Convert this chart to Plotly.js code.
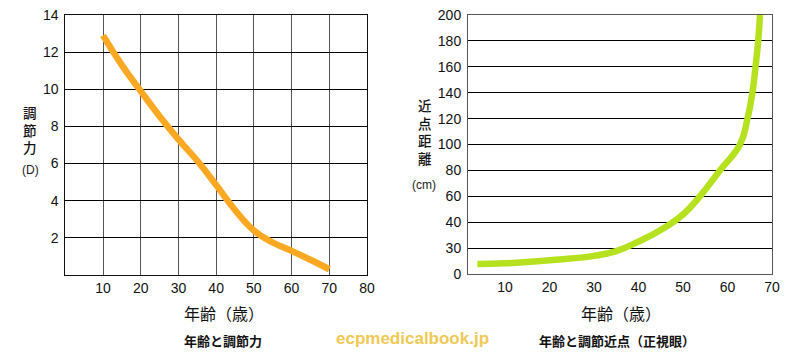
<!DOCTYPE html>
<html>
<head>
<meta charset="utf-8">
<script src="https://cdn.plot.ly/plotly-3.0.1.min.js"></script>
<style>html,body{margin:0;padding:0;background:#fff;}#chart{width:800px;height:360px;}</style>
</head>
<body>
<div id="chart"></div>
<script>
// Left chart: age vs accommodation (D)
const agesAcc = [10, 15, 20, 25, 30, 35, 40, 45, 50, 55, 60, 65, 70];
const accommodation = [12.9, 11.3, 9.9, 8.55, 7.3, 6.15, 4.85, 3.5, 2.4, 1.75, 1.3, 0.82, 0.31];
const accXTicks = [10, 20, 30, 40, 50, 60, 70, 80];
const accYTicks = [2, 4, 6, 8, 10, 12, 14];

// Right chart: age vs near point distance (cm)
const agesNear = [3.8, 10, 20, 30, 35, 40, 45, 50, 53.8, 58.3, 62.8, 64.5, 65.6, 66.3, 66.9, 67.3];
const nearPoint = [11.6, 12.4, 16, 21, 26.5, 32.5, 37, 46, 60, 80, 100, 120, 140, 160, 180, 200];
const nearXTicks = [10, 20, 30, 40, 50, 60, 70];
const nearYTicks = [0, 30, 40, 60, 80, 100, 120, 140, 160, 180, 200];

// Texts
const xTitle = '年齢（歳）';
const leftYTitle = '調節力';
const leftYUnit = '(D)';
const rightYTitle = '近点距離';
const rightYUnit = '(cm)';
const leftCaption = '年齢と調節力';
const rightCaption = '年齢と調節近点（正視眼）';
const watermark = 'ecpmedicalbook.jp';

// The right y axis is evenly spaced between its (irregular) tick values
function toIndex(v) {
  for (let i = 0; i < nearYTicks.length - 1; i++) {
    const a = nearYTicks[i], b = nearYTicks[i + 1];
    if (v <= b) return i + (v - a) / (b - a);
  }
  return nearYTicks.length - 1;
}

const W = 800, H = 360;
const px = x => x / W;
const py = y => 1 - y / H;

const cjk = '"Noto Sans CJK JP", "Noto Sans", sans-serif';
const latin = '"Liberation Sans", Arial, sans-serif';

const traces = [
  {
    x: agesAcc, y: accommodation, xaxis: 'x', yaxis: 'y',
    mode: 'lines', line: {color: '#FBA922', width: 6.5, shape: 'spline', smoothing: 1.3},
    hoverinfo: 'skip'
  },
  {
    x: agesNear, y: nearPoint.map(toIndex), xaxis: 'x2', yaxis: 'y2',
    mode: 'lines', line: {color: '#B5E11E', width: 6.5, shape: 'spline', smoothing: 1.3},
    hoverinfo: 'skip'
  }
];

function note(text, x, y, font) {
  return {text: text, xref: 'paper', yref: 'paper', x: px(x), y: py(y),
          xanchor: 'center', yanchor: 'middle', showarrow: false, font: font};
}
const stack = s => [...s].join('<br>');

const annotations = [
  note(stack(leftYTitle), 30, 129.5, {family: cjk, size: 13.5, color: '#111', weight: 500}),
  note(stack(rightYTitle), 425, 131.5, {family: cjk, size: 13.5, color: '#111', weight: 500}),
  note(leftYUnit, 30, 170, {family: latin, size: 12, color: '#222'}),
  note(rightYUnit, 424, 185, {family: latin, size: 12, color: '#222'}),
  note(xTitle, 224, 313, {family: cjk, size: 16, color: '#111'}),
  note(xTitle, 621, 313, {family: cjk, size: 16, color: '#111'}),
  note('<b>' + leftCaption + '</b>', 223, 340, {family: cjk, size: 13, color: '#111'}),
  note('<b>' + rightCaption + '</b>', 617, 340, {family: cjk, size: 13, color: '#111'}),
  note('<b>' + watermark + '</b>', 412.5, 338, {family: latin, size: 17, color: '#EFC955'})
];

const tickFont = {family: latin, size: 14, color: '#111'};

const layout = {
  width: W, height: H,
  margin: {l: 0, r: 0, t: 0, b: 0},
  paper_bgcolor: '#fff', plot_bgcolor: '#fff',
  showlegend: false,
  xaxis: {
    domain: [px(65.3), px(367)], range: [0, 80],
    tickvals: accXTicks, ticktext: accXTicks.map(String),
    showgrid: true, gridcolor: '#555', gridwidth: 1,
    zeroline: false, showline: true, linecolor: '#111', linewidth: 1, mirror: true,
    ticks: '', tickfont: tickFont, fixedrange: true
  },
  yaxis: {
    domain: [py(275), py(15)], range: [0, 14],
    tickvals: accYTicks, ticktext: accYTicks.map(String),
    showgrid: true, gridcolor: '#000', gridwidth: 1,
    zeroline: false, showline: true, linecolor: '#111', linewidth: 1, mirror: true,
    ticks: 'outside', ticklen: 3, tickcolor: 'rgba(0,0,0,0)',
    tickfont: tickFont, fixedrange: true
  },
  xaxis2: {
    domain: [px(468), px(772)], range: [1.7, 70], anchor: 'y2',
    tickvals: nearXTicks, ticktext: nearXTicks.map(String),
    showgrid: false,
    zeroline: false, showline: true, linecolor: '#555', linewidth: 1, mirror: true,
    ticks: '', tickfont: tickFont, fixedrange: true
  },
  yaxis2: {
    domain: [py(274), py(15)], range: [0, nearYTicks.length - 1], anchor: 'x2',
    tickvals: nearYTicks.map(toIndex), ticktext: nearYTicks.map(String),
    showgrid: true, gridcolor: '#000', gridwidth: 1,
    zeroline: false, showline: true, linecolor: '#555', linewidth: 1, mirror: true,
    ticks: 'outside', ticklen: 3, tickcolor: 'rgba(0,0,0,0)',
    tickfont: tickFont, fixedrange: true
  },
  annotations: annotations
};

Plotly.newPlot('chart', traces, layout, {displayModeBar: false, staticPlot: true});
</script>
</body>
</html>
